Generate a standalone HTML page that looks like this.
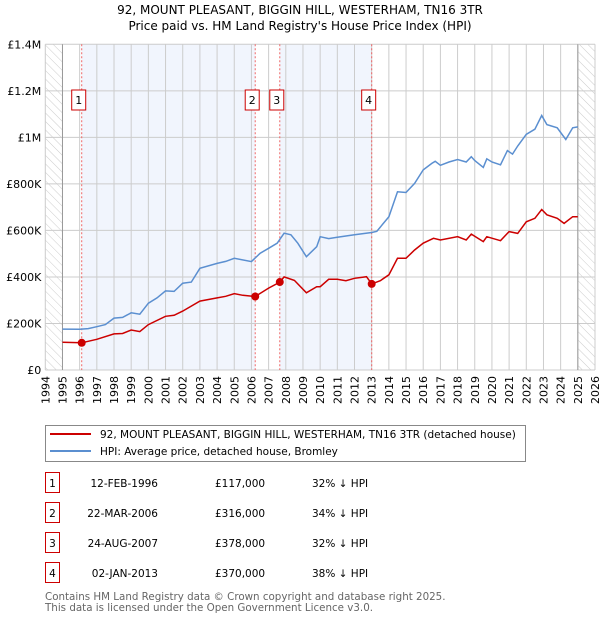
<!DOCTYPE html>
<html><head><meta charset="utf-8"><style>
body{margin:0;background:#fff;font-family:"DejaVu Sans","Liberation Sans",sans-serif;}
svg text{font-family:"DejaVu Sans","Liberation Sans",sans-serif;}
</style></head><body>
<svg id="c" width="600" height="620" xmlns="http://www.w3.org/2000/svg">
<defs><pattern id="h" width="6" height="6" patternUnits="userSpaceOnUse" patternTransform="rotate(-45)"><line x1="0" y1="0" x2="0" y2="6" stroke="#ccc" stroke-width="1"/></pattern></defs>
<text x="300" y="14" text-anchor="middle" font-size="12">92, MOUNT PLEASANT, BIGGIN HILL, WESTERHAM, TN16 3TR</text>
<text x="300" y="30" text-anchor="middle" font-size="12">Price paid vs. HM Land Registry's House Price Index (HPI)</text>
<g id="plot"></g>
<g>
<rect x="45.5" y="425.5" width="480" height="36" fill="#fff" stroke="#888"/>
<line x1="50" y1="434" x2="91" y2="434" stroke="#cc0000" stroke-width="2"/>
<text x="100" y="438" font-size="10.5">92, MOUNT PLEASANT, BIGGIN HILL, WESTERHAM, TN16 3TR (detached house)</text>
<line x1="50" y1="451" x2="91" y2="451" stroke="#5b8fd0" stroke-width="2"/>
<text x="100" y="455" font-size="10.5">HPI: Average price, detached house, Bromley</text>
</g>
<g id="tbl" font-size="10.5"></g>
<text x="45" y="600" font-size="10.3" fill="#666">Contains HM Land Registry data © Crown copyright and database right 2025.</text>
<text x="45" y="611" font-size="10.3" fill="#666">This data is licensed under the Open Government Licence v3.0.</text>
</svg>
<script>
const hpiYears=[1995,1996,1996.5,1997,1997.5,1998,1998.5,1999,1999.5,2000,2000.5,2001,2001.5,2002,2002.5,2003,2004,2004.5,2005,2006,2006.5,2007,2007.5,2007.9,2008.3,2008.7,2009.2,2009.8,2010,2010.5,2011,2012,2013,2013.3,2014,2014.5,2015,2015.5,2016,2016.5,2016.7,2017,2017.5,2018,2018.5,2018.8,2019,2019.5,2019.7,2020,2020.5,2020.9,2021.2,2021.5,2022,2022.5,2022.9,2023.2,2023.8,2024.3,2024.7,2025];
const hpiValues=[176,175,178,186,195,223,226,246,240,287,310,340,338,373,378,437,458,467,480,466,501,523,545,588,581,545,487,530,573,565,571,581,591,596,659,766,763,802,860,888,897,880,894,905,894,917,900,871,908,894,882,943,928,963,1013,1035,1094,1055,1041,991,1041,1045];
const ppYears=[1995,1996.12,1997,1998,1998.5,1999,1999.5,2000,2001,2001.5,2002,2003,2004,2004.5,2005,2005.5,2006.22,2007,2007.65,2007.9,2008.5,2009.2,2009.8,2010,2010.5,2011,2011.5,2012,2012.7,2013.0,2013.5,2014,2014.5,2015,2015.5,2016,2016.6,2017,2018,2018.5,2018.8,2019.5,2019.7,2020.5,2021,2021.5,2022,2022.5,2022.9,2023.2,2023.8,2024.2,2024.7,2025];
const ppValues=[119,117,132,155,157,172,165,195,231,235,253,296,310,317,328,321,316,352,378,400,385,332,358,358,390,390,384,394,401,370,384,409,480,480,516,545,566,559,573,559,584,552,573,556,595,587,637,652,690,667,652,630,659,659];
const saleYears=[1996.12,2006.22,2007.65,2013.0];
const saleValues=[117,316,378,370];
const saleLabels=["1","2","3","4"];
const saleDates=["12-FEB-1996","22-MAR-2006","24-AUG-2007","02-JAN-2013"];
const salePrices=["£117,000","£316,000","£378,000","£370,000"];
const saleDiffs=["32% ↓ HPI","34% ↓ HPI","32% ↓ HPI","38% ↓ HPI"];
const yTicks=[0,200,400,600,800,1000,1200,1400];
const yTickLabels=["£0","£200K","£400K","£600K","£800K","£1M","£1.2M","£1.4M"];
const xTicks=[1994,1995,1996,1997,1998,1999,2000,2001,2002,2003,2004,2005,2006,2007,2008,2009,2010,2011,2012,2013,2014,2015,2016,2017,2018,2019,2020,2021,2022,2023,2024,2025,2026];

const NS="http://www.w3.org/2000/svg";
const L=45.3,R=595,T=44.3,B=370;
const x=v=>L+(v-1994)*(R-L)/32;
const y=v=>B-v*(B-T)/1400;
const g=document.getElementById('plot');
function mk(t,a,p){const e=document.createElementNS(NS,t);for(const k in a)e.setAttribute(k,a[k]);(p||g).appendChild(e);return e;}
for(const [a,b] of [[0,1],[2,3]]){const r=mk('rect',{x:x(saleYears[a]),y:T,width:x(saleYears[b])-x(saleYears[a]),height:B-T,fill:'#eef3fc',opacity:0.8});

}
let h1=mk('rect',{x:L,y:T,width:x(1995)-L,height:B-T,fill:'url(#h)'});


let h2=mk('rect',{x:x(2025),y:T,width:R-x(2025),height:B-T,fill:'url(#h)'});


xTicks.forEach(v=>{const l=mk('line',{x1:x(v),x2:x(v),y1:T,y2:B,stroke:'#ccc'});


const t=mk('text',{x:0,y:0,'font-size':11,'text-anchor':'end',transform:`translate(${x(v)+4},${B+6}) rotate(-90)`});t.textContent=v;

});
yTicks.forEach((v,i)=>{const l=mk('line',{x1:L,x2:R,y1:y(v),y2:y(v),stroke:'#ccc'});


const t=mk('text',{x:L-4,y:y(v)+4,'font-size':11,'text-anchor':'end'});t.textContent=yTickLabels[i];

});
let a1=mk('line',{x1:x(1995),x2:x(1995),y1:T,y2:B,stroke:'#999'});


let a2=mk('line',{x1:x(2025),x2:x(2025),y1:T,y2:B,stroke:'#999'});


saleYears.forEach((s,i)=>{const l=mk('line',{x1:x(s),x2:x(s),y1:T,y2:B,stroke:'#e66','stroke-dasharray':'2,2'});


const r=mk('rect',{x:x(s)-10,y:90,width:14,height:20,fill:'#fff',stroke:'#cc0000'});


const t=mk('text',{x:x(s)-3,y:104,'font-size':11,'text-anchor':'middle'});t.textContent=saleLabels[i];

});
const path=(xs,vs)=>xs.map((v,i)=>(i?'L':'M')+x(v).toFixed(1)+','+y(vs[i]).toFixed(1)).join('');
let hp=mk('path',{d:path(hpiYears,hpiValues),fill:'none',stroke:'#5b8fd0','stroke-width':1.5});


let pp=mk('path',{d:path(ppYears,ppValues),fill:'none',stroke:'#cc0000','stroke-width':1.5});


saleYears.forEach((s,i)=>{const c=mk('circle',{cx:x(s),cy:y(saleValues[i]),r:4,fill:'#cc0000'});

});
const tb=document.getElementById('tbl');
saleDates.forEach((d,i)=>{const cy=483+i*30;
const r=mk('rect',{x:45.5,y:cy-10.5,width:14,height:20,fill:'#fff',stroke:'#cc0000'},tb);


const n=mk('text',{x:52.5,y:cy+4,'text-anchor':'middle'},tb);n.textContent=saleLabels[i];


const t1=mk('text',{x:158,y:cy+4,'text-anchor':'end'},tb);t1.textContent=d;


const t2=mk('text',{x:215,y:cy+4},tb);t2.textContent=salePrices[i];


const t3=mk('text',{x:312,y:cy+4},tb);t3.textContent=saleDiffs[i];

});
</script>
</body></html>
